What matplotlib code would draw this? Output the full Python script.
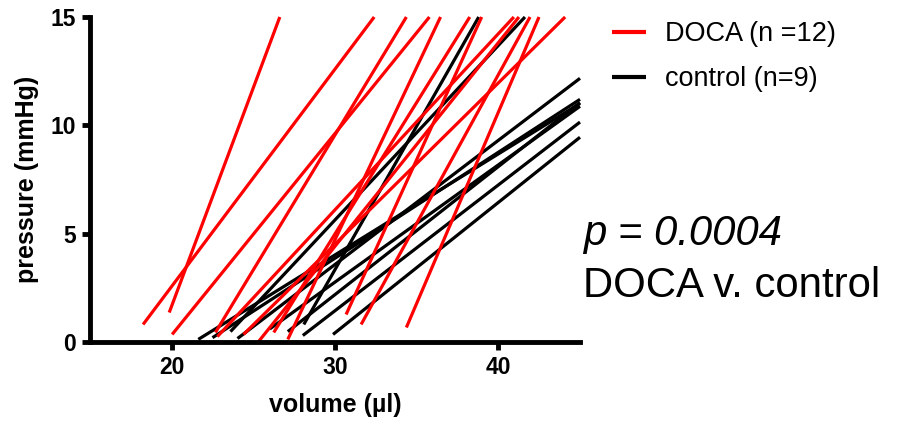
import matplotlib
matplotlib.use("Agg")
import matplotlib.pyplot as plt

plt.rcParams['font.family'] = ['Liberation Sans', 'DejaVu Sans']

# DOCA lines: (volume start, pressure start, volume end, pressure end)
doca_v0 = [18.25, 19.85, 20.03, 22.68, 22.80, 24.40, 25.32, 34.37, 31.60, 30.68, 27.11, 26.25]
doca_p0 = [0.81, 1.36, 0.35, 0.44, 0.25, 0.35, 0.02, 0.67, 0.81, 1.27, 0.12, 0.44]
doca_v1 = [32.40, 26.62, 35.78, 34.37, 40.95, 44.09, 41.26, 42.49, 41.94, 38.98, 36.46, 38.25]
doca_p1 = [15, 15, 15, 15, 15, 15, 15, 15, 15, 15, 15, 15]

# control lines
ctrl_v0 = [28.09, 23.60, 21.63, 22.50, 24.03, 26.00, 27.11, 28.03, 29.88]
ctrl_p0 = [0.81, 0.48, 0.12, 0.20, 0.16, 0.60, 0.48, 0.30, 0.35]
ctrl_v1 = [38.80, 41.63, 45, 45, 45, 45, 45, 45, 45]
ctrl_p1 = [15, 15, 11.01, 11.20, 12.17, 10.88, 11.05, 10.15, 9.45]

x_ticks = [20, 30, 40]
y_ticks = [0, 5, 10, 15]

fig = plt.figure(figsize=(8.99, 4.26), dpi=100)
ax = fig.add_axes([90/899, 1 - 342/426, (580 - 90)/899, (342 - 17)/426])

lw = 2.3
for i in range(len(ctrl_v0)):
    ax.plot([ctrl_v0[i], ctrl_v1[i]], [ctrl_p0[i], ctrl_p1[i]], color='black', lw=lw,
            solid_capstyle='butt', clip_on=False, label='control (n=9)' if i == 0 else None)
for i in range(len(doca_v0)):
    ax.plot([doca_v0[i], doca_v1[i]], [doca_p0[i], doca_p1[i]], color='#ff0000', lw=lw,
            solid_capstyle='butt', clip_on=False, label='DOCA (n =12)' if i == 0 else None)

ax.set_xlim(15, 45)
ax.set_ylim(0, 15)
ax.set_xticks(x_ticks)
ax.set_yticks(y_ticks)
for s in ['top', 'right']:
    ax.spines[s].set_visible(False)
for s in ['left', 'bottom']:
    ax.spines[s].set_linewidth(3.5)
ax.tick_params(width=3.5, length=6, labelsize=16.5, pad=4)
for lab in ax.get_xticklabels() + ax.get_yticklabels():
    lab.set_fontweight('bold')

ax.set_xlabel('volume (µl)', fontsize=18, fontweight='bold', labelpad=10)
ax.set_ylabel('pressure (mmHg)', fontsize=18, fontweight='bold', labelpad=8)

handles, labels = ax.get_legend_handles_labels()
order = [labels.index('DOCA (n =12)'), labels.index('control (n=9)')]
leg = ax.legend([handles[k] for k in order], [labels[k] for k in order],
                loc='upper left', bbox_to_anchor=(612/899, 1 - 21/426),
                bbox_transform=fig.transFigure, frameon=False, fontsize=19.5,
                handlelength=1.25, handletextpad=0.7, labelspacing=0.72,
                borderpad=0, borderaxespad=0)
for l in leg.get_lines():
    l.set_linewidth(3)

fig.text(583/899, 1 - 245/426, 'p = 0.0004', fontsize=30.2, style='italic', ha='left', va='baseline')
fig.text(583/899, 1 - 297/426, 'DOCA v. control', fontsize=30.2, ha='left', va='baseline')

fig.savefig('out.png', dpi=100)
